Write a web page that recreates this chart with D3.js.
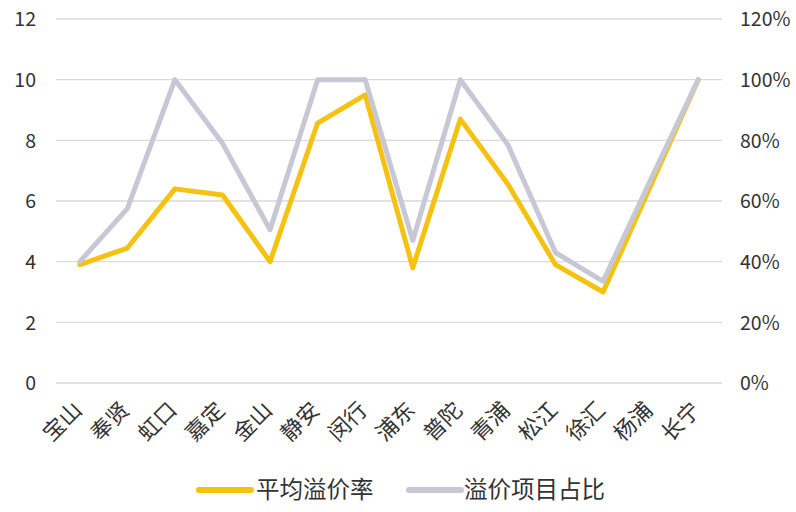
<!DOCTYPE html>
<html><head><meta charset="utf-8">
<script src="https://cdn.jsdelivr.net/npm/d3@7"></script>
<style>
body{margin:0;background:#fff;}
text{font-family:"Noto Sans CJK SC","Noto Sans",sans-serif;fill:#333;}
</style></head>
<body><svg id="c" width="796" height="512"></svg>
<script>
const categories = ["宝山","奉贤","虹口","嘉定","金山","静安","闵行","浦东","普陀","青浦","松江","徐汇","杨浦","长宁"];
const avgPremium = [3.9,4.45,6.4,6.2,4.0,8.57,9.5,3.8,8.7,6.55,3.9,3.0,6.5,10];
const premiumShare = [0.40,0.575,1.0,0.79,0.505,1.0,1.0,0.47,1.0,0.785,0.43,0.335,0.67,1.0];
const leftTicks = [0,2,4,6,8,10,12];
const rightTicks = [0,0.2,0.4,0.6,0.8,1.0,1.2];
const seriesNames = ["平均溢价率","溢价项目占比"];
const colors = ["#F5C211","#C7C7D5"];

const svg = d3.select("#c");
const L = 56, R = 722, T = 19, B = 383;
const x = d3.scaleBand().domain(categories).range([L, R]);
const yL = d3.scaleLinear().domain([0,12]).range([B, T]);
const yR = d3.scaleLinear().domain([0,1.2]).range([B, T]);

// grid
svg.append("g").selectAll("line").data(leftTicks).join("line")
  .attr("x1", L).attr("x2", R)
  .attr("y1", d => yL(d)).attr("y2", d => yL(d))
  .attr("stroke", "#D9D9D9").attr("stroke-width", 1.3);

// left axis
const axL = d3.axisLeft(yL).tickValues(leftTicks).tickSize(0).tickPadding(0);
const gL = svg.append("g").attr("transform", `translate(${L-20},0)`).call(axL);
gL.select(".domain").remove();
gL.selectAll("text").style("font-size","19.5px").attr("fill","#333").attr("dy","0.35em");

// right axis
const axR = d3.axisRight(yR).tickValues(rightTicks).tickSize(0).tickPadding(0).tickFormat(d3.format(".0%"));
const gR = svg.append("g").attr("transform", `translate(${R+18},0)`).call(axR);
gR.select(".domain").remove();
gR.selectAll("text").style("font-size","19.5px").attr("fill","#333").attr("dy","0.35em");

// x axis labels
const axX = d3.axisBottom(x).tickSize(0).tickPadding(0);
const gX = svg.append("g").attr("transform", `translate(0,${B+14})`).call(axX);
gX.select(".domain").remove();
gX.selectAll("text").style("font-size","22px").attr("fill","#333")
  .attr("text-anchor","end").attr("dy","0.35em").attr("dx","0")
  .attr("transform","translate(-2,9) rotate(-45)").attr("y",0).attr("x",0);

const cx = d => x(d) + x.bandwidth()/2;
const line1 = d3.line().x((d,i) => cx(categories[i])).y(d => yL(d));
const line2 = d3.line().x((d,i) => cx(categories[i])).y(d => yR(d));

svg.append("path").datum(avgPremium).attr("d", line1)
  .attr("fill","none").attr("stroke",colors[0]).attr("stroke-width",5).attr("stroke-linejoin","round").attr("stroke-linecap","round");
svg.append("path").datum(premiumShare).attr("d", line2)
  .attr("fill","none").attr("stroke",colors[1]).attr("stroke-width",5).attr("stroke-linejoin","round").attr("stroke-linecap","round");

// legend
const legend = [{x1:199,x2:251,tx:256},{x1:409,x2:461,tx:464}];
legend.forEach((l,i) => {
  svg.append("line").attr("x1",l.x1).attr("x2",l.x2).attr("y1",490).attr("y2",490)
    .attr("stroke",colors[i]).attr("stroke-width",6).attr("stroke-linecap","round");
  svg.append("text").attr("x",l.tx).attr("y",490).attr("dy","0.35em")
    .style("font-size","23.5px").text(seriesNames[i]);
});
</script></body></html>
